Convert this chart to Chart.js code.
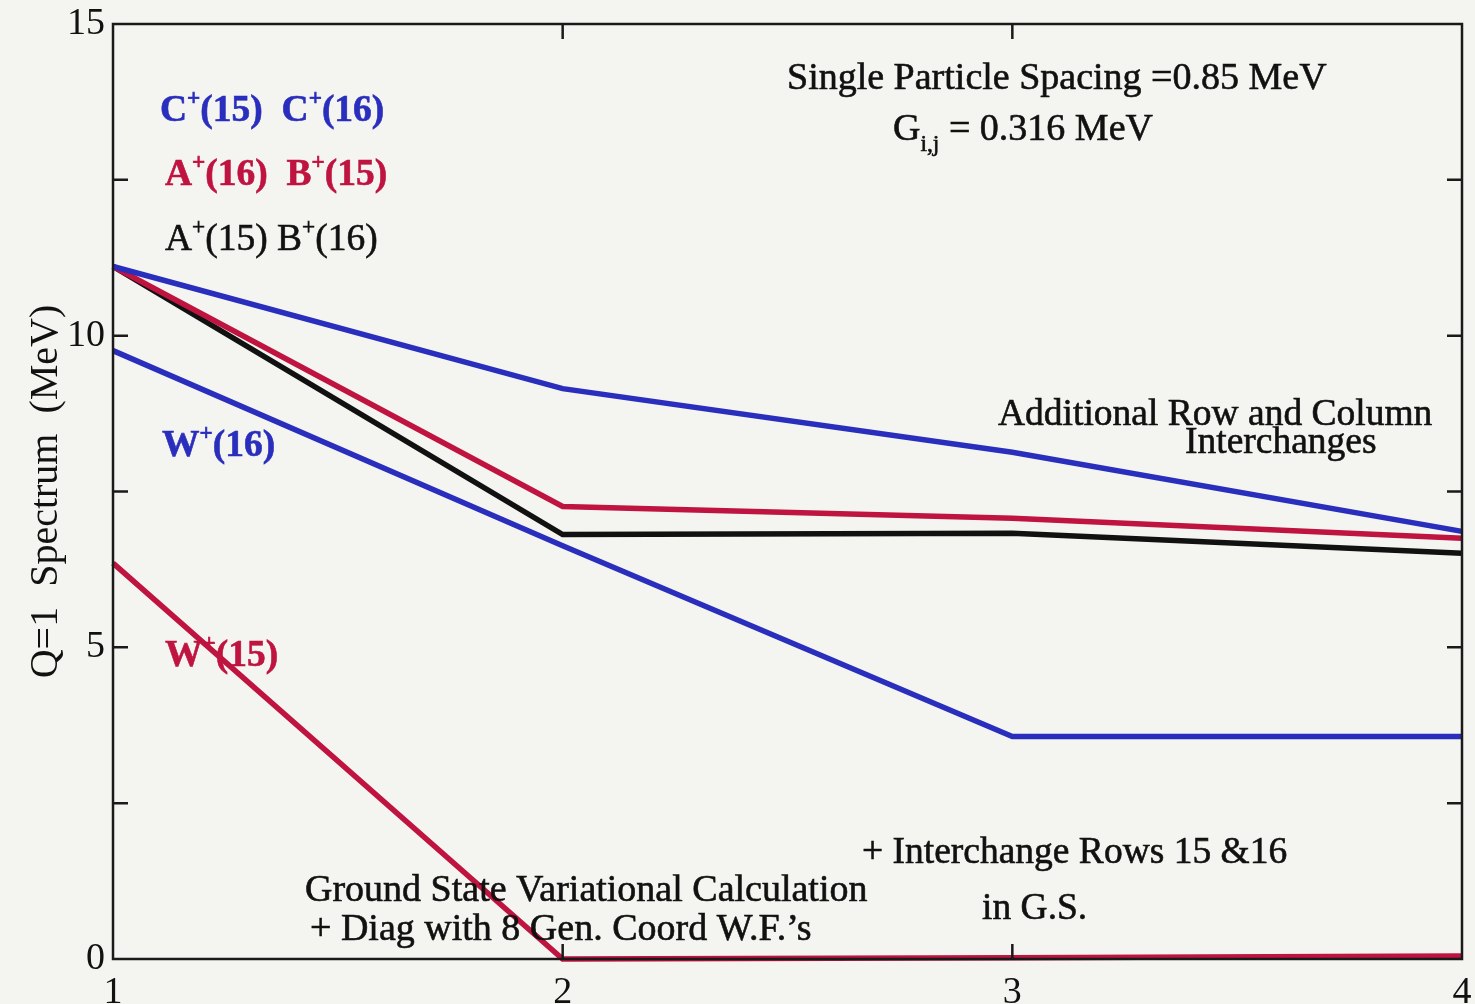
<!DOCTYPE html>
<html>
<head>
<meta charset="utf-8">
<script src="https://cdn.jsdelivr.net/npm/chart.js@4/dist/chart.umd.min.js"></script>
<style>
  html, body { margin: 0; padding: 0; background: #f4f5f0; }
  #wrap { width: 1475px; height: 1004px; }
</style>
</head>
<body>
<div id="wrap"><canvas id="c" width="1475" height="1004"></canvas></div>
<script>
// Iteration steps of the calculation
const steps = [1, 2, 3, 4];

// Q=1 spectrum levels (MeV) at each step
const cPlus   = [11.11, 9.15, 8.13, 6.86];   // C+(15), C+(16)
const abRed   = [11.11, 7.26, 7.07, 6.75];   // A+(16), B+(15)
const abBlack = [11.11, 6.81, 6.83, 6.51];   // A+(15), B+(16)
const w16     = [9.76, 6.63, 3.57, 3.57];    // W+(16)
const w15     = [6.35, 0.00, 0.02, 0.05];    // W+(15)

// Axis ticks
const yLabelTicks = [0, 5, 10, 15];
const yInnerTicks = [2.5, 5, 7.5, 10, 12.5];
const xInnerTicks = [2, 3];

const BLUE = '#2a2ebd';
const RED = '#bf1340';
const BLACK = '#111111';
const SERIF = '"Liberation Serif", "Times New Roman", serif';

const toPts = ys => steps.map((x, i) => ({ x, y: ys[i] }));

// Rich text: segments with optional superscript/subscript, lightly stroked
function drawRich(ctx, x, y, segs, size, weight, color) {
  ctx.save();
  ctx.fillStyle = color;
  ctx.strokeStyle = color;
  ctx.lineWidth = 0.6;
  ctx.textBaseline = 'alphabetic';
  ctx.textAlign = 'left';
  let cx = x;
  for (const s of segs) {
    let fs = size, dy = 0;
    if (s.sup) { fs = size * 0.62; dy = -size * 0.42; }
    if (s.sub) { fs = size * 0.62; dy = size * 0.28; }
    ctx.font = `${weight} ${fs}px ${SERIF}`;
    ctx.fillText(s.t, cx, y + dy);
    ctx.strokeText(s.t, cx, y + dy);
    cx += ctx.measureText(s.t).width;
  }
  ctx.restore();
}

const labels = [
  { x: 160, y: 121, size: 37.5, w: 'bold', c: BLUE,
    segs: [{t:'C'},{t:'+',sup:true},{t:'(15)  C'},{t:'+',sup:true},{t:'(16)'}] },
  { x: 165, y: 185, size: 37.5, w: 'bold', c: RED,
    segs: [{t:'A'},{t:'+',sup:true},{t:'(16)  B'},{t:'+',sup:true},{t:'(15)'}] },
  { x: 165, y: 250, size: 37.5, w: 'normal', c: BLACK,
    segs: [{t:'A'},{t:'+',sup:true},{t:'(15) B'},{t:'+',sup:true},{t:'(16)'}] },
  { x: 162, y: 456, size: 37.5, w: 'bold', c: BLUE,
    segs: [{t:'W'},{t:'+',sup:true},{t:'(16)'}] },
  { x: 165, y: 666, size: 37.5, w: 'bold', c: RED,
    segs: [{t:'W'},{t:'+',sup:true},{t:'(15)'}] },
  { x: 787, y: 89, size: 38, w: 'normal', c: BLACK,
    segs: [{t:'Single Particle Spacing =0.85 MeV'}] },
  { x: 893, y: 140, size: 38, w: 'normal', c: BLACK,
    segs: [{t:'G'},{t:'i,j',sub:true},{t:' = 0.316 MeV'}] },
  { x: 998, y: 425, size: 37.5, w: 'normal', c: BLACK,
    segs: [{t:'Additional Row and Column'}] },
  { x: 1185, y: 453, size: 37.5, w: 'normal', c: BLACK,
    segs: [{t:'Interchanges'}] },
  { x: 862, y: 863, size: 37.5, w: 'normal', c: BLACK,
    segs: [{t:'+ Interchange Rows 15 &16'}] },
  { x: 982, y: 919, size: 37.5, w: 'normal', c: BLACK,
    segs: [{t:'in G.S.'}] },
  { x: 305, y: 901, size: 38, w: 'normal', c: BLACK,
    segs: [{t:'Ground State Variational Calculation'}] },
  { x: 310, y: 940, size: 38, w: 'normal', c: BLACK,
    segs: [{t:'+ Diag with 8 Gen. Coord W.F.\u2019s'}] }
];

const framePlugin = {
  id: 'frame',
  beforeDraw(chart) {
    const ctx = chart.ctx;
    ctx.save();
    ctx.fillStyle = '#f4f5f0';
    ctx.fillRect(0, 0, chart.width, chart.height);
    ctx.restore();
  },
  afterDatasetsDraw(chart) {
    const { ctx, chartArea: a, scales: { x, y } } = chart;
    ctx.save();
    ctx.strokeStyle = '#1a1a1a';
    ctx.lineWidth = 2.5;
    ctx.strokeRect(a.left, a.top, a.right - a.left, a.bottom - a.top);
    const L = 15;
    ctx.beginPath();
    for (const v of yInnerTicks) {
      const py = y.getPixelForValue(v);
      ctx.moveTo(a.left, py); ctx.lineTo(a.left + L, py);
      ctx.moveTo(a.right, py); ctx.lineTo(a.right - L, py);
    }
    for (const v of xInnerTicks) {
      const px = x.getPixelForValue(v);
      ctx.moveTo(px, a.bottom); ctx.lineTo(px, a.bottom - L);
      ctx.moveTo(px, a.top); ctx.lineTo(px, a.top + L);
    }
    ctx.stroke();
    ctx.restore();
  },
  afterDraw(chart) {
    const ctx = chart.ctx;
    for (const l of labels) drawRich(ctx, l.x, l.y, l.segs, l.size, l.w, l.c);
  }
};

const mk = (label, ys, color) => ({
  label, data: toPts(ys), borderColor: color, backgroundColor: color,
  borderWidth: 5.5, pointRadius: 0, tension: 0, clip: false
});

new Chart(document.getElementById('c'), {
  type: 'line',
  data: {
    datasets: [
      mk('C+(15) C+(16)', cPlus, BLUE),
      mk('A+(16) B+(15)', abRed, RED),
      mk('A+(15) B+(16)', abBlack, BLACK),
      mk('W+(16)', w16, BLUE),
      mk('W+(15)', w15, RED)
    ]
  },
  options: {
    responsive: false,
    animation: false,
    devicePixelRatio: 1,
    layout: { padding: { left: 0, right: 13, top: 24, bottom: 0 } },
    plugins: { legend: { display: false }, tooltip: { enabled: false } },
    scales: {
      x: {
        type: 'linear', min: 1, max: 4,
        grid: { display: false, drawTicks: false },
        border: { display: false },
        afterBuildTicks: s => { s.ticks = steps.map(v => ({ value: v })); },
        afterFit: s => { s.height = 45; s.paddingLeft = 0; s.paddingRight = 0; },
        ticks: {
          padding: 11, color: '#111',
          font: { family: SERIF, size: 38 },
          maxRotation: 0, autoSkip: false,
          callback: v => String(v)
        }
      },
      y: {
        type: 'linear', min: 0, max: 15,
        grid: { display: false, drawTicks: false },
        border: { display: false },
        afterBuildTicks: s => { s.ticks = yLabelTicks.map(v => ({ value: v })); },
        afterFit: s => { s.width = 113; s.paddingTop = 0; s.paddingBottom = 0; },
        title: {
          display: true, text: 'Q=1  Spectrum  (MeV)', color: '#111',
          font: { family: SERIF, size: 40 }, padding: { top: 22, bottom: 0 }
        },
        ticks: {
          padding: 8, color: '#111',
          font: { family: SERIF, size: 38 },
          callback: v => String(v)
        }
      }
    }
  },
  plugins: [framePlugin]
});
</script>
</body>
</html>
